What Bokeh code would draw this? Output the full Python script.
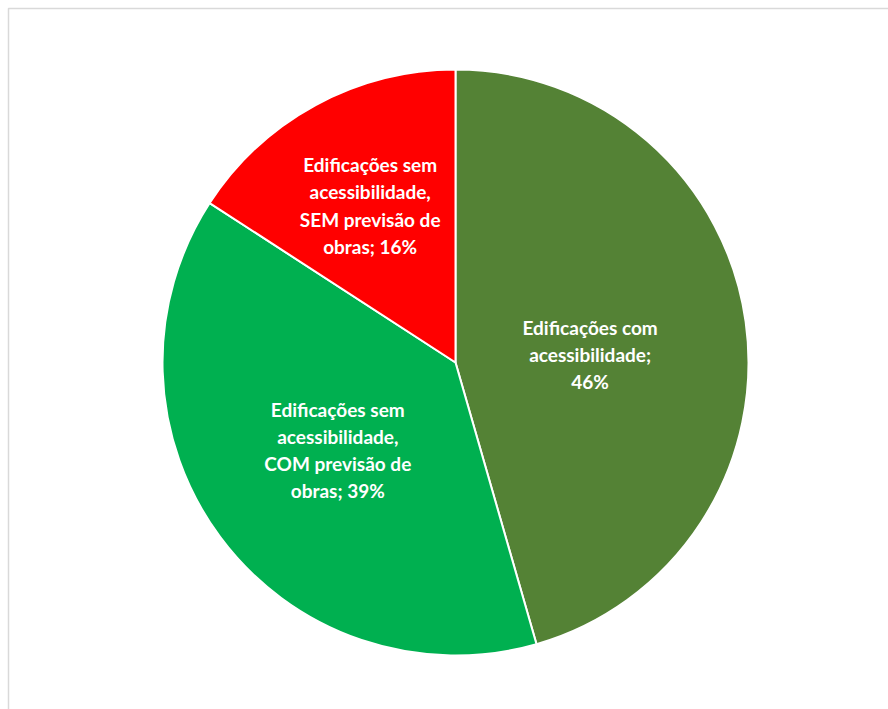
import math
from bokeh.plotting import figure
from bokeh.models import Range1d, ColumnDataSource
from bokeh.core.properties import value
from bokeh.embed import file_html
from bokeh.resources import INLINE

# Data
labels = [
    "Edificações com\nacessibilidade;\n46%",
    "Edificações sem\nacessibilidade,\nCOM previsão de\nobras; 39%",
    "Edificações sem\nacessibilidade,\nSEM previsão de\nobras; 16%",
]
values = [46, 39, 16]
colors = ["#548235", "#00B050", "#FF0000"]

# Layout (pixel space)
W, H = 888, 709
cx, cy = 455, H - 362
R = 293
label_r = [0.464, 0.50, 0.61]
label_dy = [-11, 0, 0]

total = float(sum(values))
starts, ends, lx, ly = [], [], [], []
cum = 0.0
for i, v in enumerate(values):
    f0 = cum / total
    cum += v
    f1 = cum / total
    starts.append(math.pi / 2 - 2 * math.pi * f0)
    ends.append(math.pi / 2 - 2 * math.pi * f1)
    mid = (f0 + f1) / 2 * 2 * math.pi
    r = label_r[i] * R
    lx.append(cx + r * math.sin(mid))
    ly.append(cy + r * math.cos(mid) + label_dy[i])

src = ColumnDataSource(dict(start=starts, end=ends, color=colors))
lsrc = ColumnDataSource(dict(x=lx, y=ly, text=labels))

p = figure(width=W, height=H, x_range=Range1d(0, W), y_range=Range1d(0, H),
           output_backend="svg", toolbar_location=None, min_border=0)
p.axis.visible = False
p.grid.visible = False
p.outline_line_color = None
p.background_fill_color = "white"
p.border_fill_color = "white"

# chart area border
p.quad(left=[8], right=[W + 10], top=[H - 8], bottom=[-10],
       fill_color=None, line_color="#d9d9d9", line_width=1.5)

p.wedge(x=cx, y=cy, radius=R, start_angle="start", end_angle="end",
        direction="clock", fill_color="color", line_color="white",
        line_width=2, source=src)

p.text(x="x", y="y", text="text", source=lsrc, text_color="white",
       text_font=value("Lato"), text_font_style="bold",
       text_font_size="19px", text_align="center", text_baseline="middle",
       text_line_height=1.18)

open("out.html", "w").write(file_html(p, INLINE))
